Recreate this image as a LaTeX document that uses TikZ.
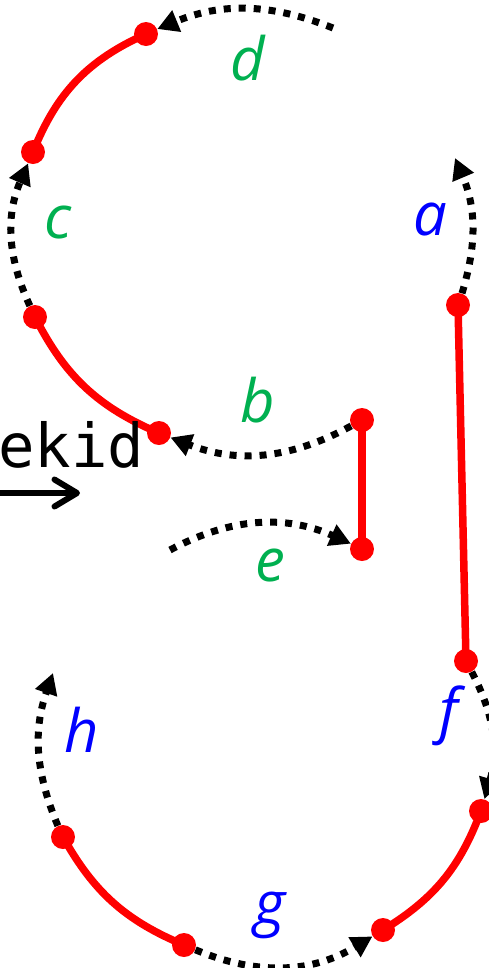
\documentclass[tikz,border=0pt]{standalone}
\usepackage{fontspec}
\newfontfamily\labfont{Open Sans}
\newfontfamily\monofont{DejaVu Sans Mono}
\usetikzlibrary{arrows.meta}
\definecolor{lgreen}{RGB}{0,176,80}
\definecolor{lblue}{RGB}{0,0,255}
\definecolor{lred}{RGB}{255,0,0}
\begin{document}
\begin{tikzpicture}[x=0.02cm,y=-0.02cm,
 dot/.style={circle,fill=lred,inner sep=0pt,minimum size=0.48cm},
 seg/.style={draw=lred,line width=0.15cm},
 flow/.style={line width=0.14cm,dash pattern=on 0.14cm off 0.16cm,-{Triangle[length=0.42cm,width=0.44cm]}},
 lbl/.style={font=\labfont\itshape\fontsize{34}{40}\selectfont,inner sep=0pt},
 lg/.style={lbl,text=lgreen},
 lb/.style={lbl,text=lblue},
]
\useasboundingbox (0,0) rectangle (489,968);
\node[dot] (d1) at (146,34) {};
\node[dot] (c1) at (33,152) {};
\node[dot] (c2) at (35,317) {};
\node[dot] (b1) at (159,433) {};
\node[dot] (s1) at (362,420) {};
\node[dot] (s2) at (362,549) {};
\node[dot] (a1) at (458,305) {};
\node[dot] (f1) at (466,661) {};
\node[dot] (f2) at (481,811) {};
\node[dot] (g2) at (383,930) {};
\node[dot] (g1) at (184,945) {};
\node[dot] (h1) at (63,837) {};
\coordinate (d0) at (333,28);
\coordinate (a0) at (455,158);
\coordinate (e0) at (170,550);
\coordinate (h0) at (53,673);
% red segments
\draw[seg] (d1.center) to[bend right=22] (c1.center);
\draw[seg] (c2.center) to[bend right=20] (b1.center);
\draw[seg] (s1.center) -- (s2.center);
\draw[seg] (a1.center) -- (f1.center);
\draw[seg] (f2.center) to[bend left=19] (g2.center);
\draw[seg] (h1.center) to[bend right=19] (g1.center);
% dotted arrows
\draw[flow] (d0) to[bend right=22] (d1);
\draw[flow] (c2) to[bend left=24] (c1);
\draw[flow] (s1) to[bend left=25] (b1);
\draw[flow] (e0) to[bend left=26] (s2);
\draw[flow] (a1) to[bend right=20] (a0);
\draw[flow] (f1) to[bend left=22] (f2);
\draw[flow] (g1) to[bend right=27] (g2);
\draw[flow] (h1) to[bend left=21] (h0);
% labels
\node[lg] (ld) at (248,58) {d};
\node[lg] (lc) at (58,223) {c};
\node[lb] (la) at (430,220) {a};
\node[lg] (lbb) at (258,400) {b};
\node[lg] (le) at (270,566) {e};
\node[lb] (lf) at (449,716) {f};
\node[lb] (lh) at (82,730) {h};
\node[lb] (lgg) at (270,915) {g};
% ekid
\node[font=\monofont\fontsize{34.5}{40}\selectfont,anchor=base west,inner sep=0pt] (ek) at (-2,467) {ekid};
\coordinate (k0) at (0,493);
\coordinate (k1) at (80,493);
\draw[line width=0.12cm,line cap=round,-{Straight Barb[length=0.45cm,width=0.54cm,line cap=round,line join=round]}] (k0) -- (k1);
\end{tikzpicture}
\end{document}
